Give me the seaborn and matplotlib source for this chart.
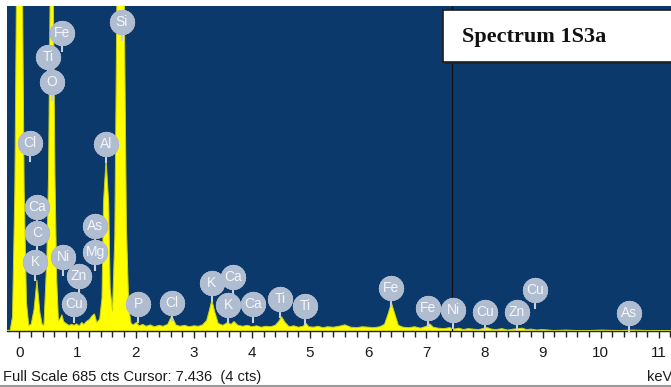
import matplotlib
matplotlib.use("Agg")
import numpy as np
import pandas as pd
import seaborn as sns
import matplotlib.pyplot as plt
from matplotlib.patches import Rectangle
from matplotlib.lines import Line2D
from matplotlib.transforms import offset_copy

# EDS spectrum, counts per channel against energy (keV)
energy_kev = [
    -0.25, -0.16, -0.12, -0.08, -0.04, 0.0, 0.04, 0.08, 0.12, 0.16,
    0.2, 0.25, 0.3, 0.35, 0.39, 0.42, 0.47, 0.5, 0.53, 0.555,
    0.58, 0.61, 0.64, 0.67, 0.7, 0.73, 0.76, 0.8, 0.85, 0.9,
    0.94, 0.98, 1.03, 1.07, 1.11, 1.15, 1.2, 1.25, 1.29, 1.33,
    1.38, 1.42, 1.445, 1.49, 1.535, 1.56, 1.6, 1.64, 1.67, 1.71,
    1.74, 1.77, 1.81, 1.84, 1.88, 1.92, 1.96, 2.01, 2.06, 2.12,
    2.18, 2.25, 2.32, 2.4, 2.47, 2.55, 2.62, 2.69, 2.76, 2.84,
    2.92, 3.0, 3.08, 3.15, 3.22, 3.27, 3.31, 3.36, 3.42, 3.5,
    3.58, 3.64, 3.69, 3.76, 3.84, 3.92, 4.0, 4.08, 4.16, 4.24,
    4.32, 4.4, 4.46, 4.51, 4.57, 4.64, 4.72, 4.8, 4.88, 4.93,
    4.98, 5.06, 5.14, 5.22, 5.3, 5.4, 5.5, 5.6, 5.7, 5.8,
    5.9, 6.0, 6.1, 6.2, 6.28, 6.34, 6.4, 6.46, 6.52, 6.6,
    6.7, 6.8, 6.9, 7.0, 7.06, 7.12, 7.2, 7.3, 7.4, 7.48,
    7.56, 7.64, 7.72, 7.8, 7.9, 8.0, 8.05, 8.12, 8.2, 8.3,
    8.4, 8.5, 8.6, 8.65, 8.72, 8.8, 8.9, 9.0, 9.2, 9.4,
    9.6, 9.8, 10.0, 10.3, 10.55, 10.8, 11.0, 11.3, 11.6,
]
counts = [
    0, 2, 30, 300, 900, 1600, 900, 300, 60, 12,
    14, 45, 107, 40, 14, 12, 150, 330, 750, 1000,
    750, 330, 110, 22, 26, 34, 20, 16, 12, 14,
    12, 15, 11, 18, 14, 20, 24, 32, 36, 18,
    25, 70, 270, 362, 270, 90, 42, 200, 600, 1300,
    1600, 1300, 600, 220, 50, 16, 13, 18, 11, 14,
    10, 13, 9, 12, 10, 14, 32, 13, 10, 12,
    9, 11, 10, 13, 22, 45, 65, 40, 16, 12,
    18, 14, 20, 12, 10, 12, 9, 11, 8, 10,
    9, 12, 20, 30, 18, 9, 11, 8, 10, 16,
    9, 8, 10, 7, 9, 8, 10, 13, 8, 7,
    9, 8, 7, 9, 14, 35, 59, 35, 12, 8,
    7, 9, 6, 10, 15, 8, 6, 5, 7, 4,
    6, 3, 5, 4, 3, 6, 7, 4, 3, 5,
    2, 4, 5, 6, 3, 4, 2, 3, 1, 2,
    1, 1, 2, 1, 2, 1, 1, 1, 1,
]
assert len(energy_kev) == len(counts)

# Element markers: symbol, energy (keV), badge height (counts)
badge_symbols = ["Fe", "Ti", "O", "Cl", "Si", "Al", "Ca", "C", "K", "Ni",
                 "As", "Mg", "Zn", "Cu", "P", "Cl", "K", "Ca", "K", "Ca",
                 "Ti", "Ti", "Fe", "Fe", "Ni", "Cu", "Zn", "Cu", "As"]
badge_kev = [0.73, 0.49, 0.56, 0.18, 1.76, 1.49, 0.30, 0.30, 0.27, 0.75,
             1.30, 1.30, 1.02, 0.94, 2.04, 2.62, 3.31, 3.67, 3.59, 4.02,
             4.48, 4.91, 6.39, 7.03, 7.46, 8.01, 8.56, 8.87, 10.49]
badge_cts = [628, 578, 525, 396, 651, 394, 261, 207, 145, 156,
             221, 167, 116, 57, 57, 59, 101, 114, 55, 57,
             67, 53, 91, 48, 44, 40, 40, 86, 38]

full_scale = 685
cursor_kev = 7.436
cursor_cts = 4
x_ticks = list(range(12))

spec = pd.DataFrame({"energy": energy_kev, "counts": counts})
badges = pd.DataFrame({"sym": badge_symbols, "kev": badge_kev, "cts": badge_cts})

sns.set_theme(style="white")
plt.rcParams["font.family"] = ["Liberation Sans Narrow", "Liberation Sans", "DejaVu Sans"]

W, H = 671, 387
fig = plt.figure(figsize=(W / 100, H / 100), dpi=100)
fig.patch.set_facecolor("white")
ax = fig.add_axes([7 / W, 56 / H, 664 / W, 325 / H])
ax.set_facecolor("#0b396b")

# spectrum
ax.fill_between(spec["energy"], spec["counts"], 0, color="#ffff00", lw=0, zorder=2)
sns.lineplot(data=spec, x="energy", y="counts", color="#c9cf18", lw=0.7,
             ax=ax, zorder=3, sort=False)

ax.set_xlim(-0.215, 11.21)
ax.set_ylim(0, full_scale)

# cursor
ax.axvline(cursor_kev, color="#101010", lw=0.9, zorder=4)

# badges with short stems
stem_tr = offset_copy(ax.transData, fig=fig, x=0, y=-14, units="dots")
ax.scatter(badges["kev"], badges["cts"], marker="|", s=45, color="#c8d0de",
           linewidths=1.5, transform=stem_tr, zorder=5)
for rot in (0, 15):
    ax.scatter(badges["kev"], badges["cts"], marker=(12, 0, rot), s=340,
               color="#a7b3c9", linewidths=0, zorder=6)
ax.scatter(badges["kev"], badges["cts"], marker="o", s=320,
           color="#b0bccf", linewidths=0, zorder=7)
for _, r in badges.iterrows():
    ax.text(r["kev"], r["cts"], r["sym"], ha="center", va="center",
            color="#f4f6fa", fontsize=10, zorder=8)

# axis styling
for side in ("left", "top", "right"):
    ax.spines[side].set_visible(False)
ax.spines["bottom"].set_color("#222222")
ax.spines["bottom"].set_linewidth(1.0)
ax.set_yticks([])
ax.set_xticks(x_ticks)
ax.set_xticks(np.arange(0, 11.3, 0.2), minor=True)
ax.tick_params(axis="x", which="both", bottom=True, direction="out",
               color="#222222", width=1.0)
ax.tick_params(axis="x", which="major", length=5, pad=6,
               labelsize=11, labelcolor="#1a1a1a")
ax.tick_params(axis="x", which="minor", length=4)
ax.set_xlabel("")
ax.set_ylabel("")

# status line
fig.text(3 / W, 1 - 377 / H, f"Full Scale {full_scale} cts Cursor: {cursor_kev:.3f}  ({cursor_cts} cts)",
         ha="left", va="center", fontsize=10.5, color="#1a1a1a")
fig.text(647 / W, 1 - 377 / H, "keV", ha="left", va="center",
         fontsize=10.5, color="#1a1a1a")
fig.add_artist(Line2D([0, 1], [0.8 / H, 0.8 / H], color="#9a9a9a", lw=1.5))

# title box
fig.add_artist(Rectangle((445 / W, 1 - 64 / H), 230 / W, 52 / H,
                         transform=fig.transFigure, facecolor="#062a52",
                         edgecolor="none", zorder=9))
fig.add_artist(Rectangle((443 / W, 1 - 62 / H), 230 / W, 52 / H,
                         transform=fig.transFigure, facecolor="white",
                         edgecolor="#1e1e1e", lw=1.2, zorder=10))
fig.text(462 / W, 1 - 37 / H, "Spectrum 1S3a", ha="left", va="center",
         family="Liberation Serif", weight="bold", fontsize=16,
         color="#111111", zorder=11)

fig.savefig("out.png", dpi=100, facecolor="white")
